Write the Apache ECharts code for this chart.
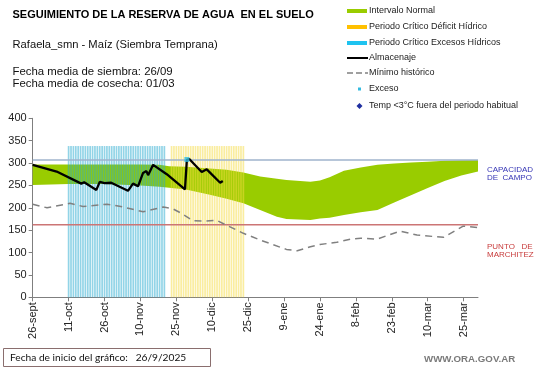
<!DOCTYPE html>
<html><head><meta charset="utf-8">
<script src="https://cdn.jsdelivr.net/npm/echarts@6/dist/echarts.min.js"></script>
<style>html,body{margin:0;padding:0;background:#fff}#c{width:541px;height:368px}</style>
</head><body><div id="c"></div>
<script>
// ---- data (x = days since 26/9/2025) ----
const tickLabels = ['26-sept','11-oct','26-oct','10-nov','25-nov','10-dic','25-dic','9-ene','24-ene','8-feb','23-feb','10-mar','25-mar'];
const xMaxDay = 186;
const bandDays  = [0, 15, 30, 45, 53, 57, 64, 74, 81, 88, 95, 102, 106, 116, 120, 124, 130, 137, 144, 151, 158, 165, 172, 179, 186];
const bandLower = [251,253,253,250,247,245,241,229,220,210,195,180,175,173,176,178,184,190,195,212,228,244,260,272,281];
const bandUpper = [297,297,297,297,296,293,292,288,285,279,270,265,262,258,261,268,283,290,296,299,301,303,305,306,307];
const excesoPeriodDays = [15,16,17,18,19,20,21,22,23,24,25,26,27,28,29,30,31,32,33,34,35,36,37,38,39,40,41,42,43,44,45,46,47,48,49,50,51,52,53,54,55];
const deficitPeriodDays = [58,59,60,61,62,63,64,65,66,67,68,69,70,71,72,73,74,75,76,77,78,79,80,81,82,83,84,85,86,87,88];
const periodTop = 338;
const almacenajeDays   = [0, 10, 20.3, 21.5, 26.6, 28, 30, 32.8, 39.8, 41.9, 44, 46.1, 47.5, 48.2, 50.3, 56, 63.6, 64.4, 65.4, 70.6, 72.7, 78.3, 79.4];
const almacenajeValues = [296,281,254,257,240,258,255,256,238,254,248,278,282,273,296,275,241,307,309,280,286,256,260];
const minimoDays   = [0, 6, 15.6, 21, 31, 37.7, 46.1, 54.6, 58.8, 62, 67, 72, 76.9, 81, 88, 95, 106, 110.5, 116, 120, 127, 133, 137, 143.8, 153.5, 160.5, 171.6, 179.8, 186];
const minimoValues = [208,200,210,203,208,202,191,202,197,188,171,170,172,161,143,128,107,104,113,118,123,130,132,130,148,139,134,159,156];
const excesoDays = [64.4];
const excesoValues = [308];
const capacidadCampo = 307;
const puntoMarchitez = 162;

const pairs = (xs, ys) => xs.map((x, i) => [x, ys[i]]);

const chart = echarts.init(document.getElementById('c'), null, {renderer: 'canvas'});
const FONT = 'Liberation Sans, Arial, sans-serif';

const legendRows = [
  {y: 11, text: 'Intervalo Normal', kind: 'rect', color: '#99CC00'},
  {y: 27, text: 'Periodo Crítico Déficit Hídrico', kind: 'rect', color: '#FFC000'},
  {y: 43, text: 'Periodo Crítico Excesos Hídricos', kind: 'rect', color: '#1EC3F0'},
  {y: 58, text: 'Almacenaje', kind: 'line', color: '#000'},
  {y: 73, text: 'Mínimo histórico', kind: 'dash', color: '#808080'},
  {y: 89, text: 'Exceso', kind: 'dot', color: '#33BBE0'},
  {y: 106, text: 'Temp <3°C fuera del periodo habitual', kind: 'diamond', color: '#1F2FA0'}
];
const legendGraphics = [];
legendRows.forEach(r => {
  if (r.kind === 'rect') legendGraphics.push({type: 'rect', shape: {x: 347, y: r.y - 2, width: 20, height: 4}, style: {fill: r.color}});
  if (r.kind === 'line') legendGraphics.push({type: 'line', shape: {x1: 347, y1: r.y, x2: 368, y2: r.y}, style: {stroke: r.color, lineWidth: 2}});
  if (r.kind === 'dash') legendGraphics.push({type: 'line', shape: {x1: 347, y1: r.y, x2: 368, y2: r.y}, style: {stroke: r.color, lineWidth: 1.5, lineDash: [6, 3]}});
  if (r.kind === 'dot') legendGraphics.push({type: 'rect', shape: {x: 358, y: r.y - 1.5, width: 3, height: 3}, style: {fill: r.color}});
  if (r.kind === 'diamond') legendGraphics.push({type: 'polygon', shape: {points: [[359.5, r.y - 3], [362.5, r.y], [359.5, r.y + 3], [356.5, r.y]]}, style: {fill: r.color}});
  legendGraphics.push({type: 'text', x: 369, y: r.y, style: {text: r.text, font: '9px ' + FONT, fill: '#222', verticalAlign: 'middle'}});
});

const option = {
  animation: false,
  backgroundColor: '#fff',
  grid: {left: 32.7, right: 63, top: 118.3, bottom: 70.7, containLabel: false, outerBoundsMode: 'none'},
  xAxis: {
    type: 'value', min: 0, max: xMaxDay, interval: 15,
    axisLine: {lineStyle: {color: '#7f7f7f', width: 1}},
    axisTick: {show: true, length: 4, lineStyle: {color: '#7f7f7f'}},
    splitLine: {show: false},
    axisLabel: {rotate: 90, fontSize: 11, fontFamily: FONT, color: '#222', margin: 5, showMaxLabel: false,
      formatter: v => tickLabels[Math.round(v / 15)] || ''}
  },
  yAxis: {
    type: 'value', min: 0, max: 400, interval: 50,
    name: 'Milímetros', nameLocation: 'middle', nameRotate: 90, nameGap: 27,
    nameTextStyle: {fontSize: 7, fontFamily: FONT, color: '#222'},
    axisLine: {show: true, lineStyle: {color: '#7f7f7f', width: 1}},
    axisTick: {show: true, length: 4, lineStyle: {color: '#7f7f7f'}},
    splitLine: {show: false},
    axisLabel: {fontSize: 11, fontFamily: FONT, color: '#222', margin: 6}
  },
  series: [
    {name: 'Intervalo Normal', type: 'custom', z: 1,
      data: bandDays.map((d, i) => [d, bandLower[i], bandUpper[i]]),
      encode: {x: 0, y: [1, 2]},
      renderItem: (params, api) => {
        if (params.dataIndex !== 0) return null;
        const top = bandDays.map((d, i) => api.coord([d, bandUpper[i]]));
        const bottom = bandDays.map((d, i) => api.coord([d, bandLower[i]])).reverse();
        return {type: 'polygon', shape: {points: top.concat(bottom)}, style: {fill: '#99CC00'}};
      }},
    {name: 'Periodo Crítico Excesos Hídricos', type: 'bar', barWidth: 1.7, barGap: '-100%',
      data: excesoPeriodDays.map(d => [d, periodTop]), itemStyle: {color: '#25A9CF', opacity: 0.5}, z: 2},
    {name: 'Periodo Crítico Déficit Hídrico', type: 'bar', barWidth: 1.7, barGap: '-100%',
      data: deficitPeriodDays.map(d => [d, periodTop]), itemStyle: {color: '#F5DC40', opacity: 0.5}, z: 2},
    {name: 'Capacidad de campo', type: 'line', data: [[0, capacidadCampo], [xMaxDay, capacidadCampo]], symbol: 'none',
      lineStyle: {color: '#9FB3CC', width: 1.5}, z: 3},
    {name: 'Punto de marchitez', type: 'line', data: [[0, puntoMarchitez], [xMaxDay, puntoMarchitez]], symbol: 'none',
      lineStyle: {color: '#CC7575', width: 1.5}, z: 3},
    {name: 'Mínimo histórico', type: 'line', data: pairs(minimoDays, minimoValues), symbol: 'none',
      lineStyle: {color: '#808080', width: 1.5, type: [7, 5]}, z: 4},
    {name: 'Almacenaje', type: 'line', data: pairs(almacenajeDays, almacenajeValues), symbol: 'none',
      lineStyle: {color: '#000', width: 2.3}, z: 5},
    {name: 'Exceso', type: 'scatter', data: pairs(excesoDays, excesoValues), symbol: 'rect', symbolSize: 5,
      itemStyle: {color: '#33BBE0'}, z: 6},
    {name: 'Temp <3°C fuera del periodo habitual', type: 'scatter', data: [], symbol: 'diamond', itemStyle: {color: '#1F2FA0'}}
  ],
  graphic: [
    {type: 'text', x: 12.5, y: 15, style: {text: 'SEGUIMIENTO DE LA RESERVA DE AGUA  EN EL SUELO', font: 'bold 11px ' + FONT, fill: '#000', verticalAlign: 'middle'}},
    {type: 'text', x: 12.5, y: 45, style: {text: 'Rafaela_smn - Maíz (Siembra Temprana)', font: '11.2px ' + FONT, fill: '#111', verticalAlign: 'middle'}},
    {type: 'text', x: 12.5, y: 72, style: {text: 'Fecha media de siembra: 26/09', font: '11.4px ' + FONT, fill: '#111', verticalAlign: 'middle'}},
    {type: 'text', x: 12.5, y: 84, style: {text: 'Fecha media de cosecha: 01/03', font: '11.4px ' + FONT, fill: '#111', verticalAlign: 'middle'}},
    {type: 'text', x: 487, y: 170, style: {text: 'CAPACIDAD', font: '8px ' + FONT, fill: '#3535B5', verticalAlign: 'middle'}},
    {type: 'text', x: 487, y: 178, style: {text: 'DE  CAMPO', font: '8px ' + FONT, fill: '#3535B5', verticalAlign: 'middle'}},
    {type: 'text', x: 487, y: 247, style: {text: 'PUNTO   DE', font: '8px ' + FONT, fill: '#C83C3C', verticalAlign: 'middle'}},
    {type: 'text', x: 487, y: 255, style: {text: 'MARCHITEZ', font: '8px ' + FONT, fill: '#C83C3C', verticalAlign: 'middle'}},
    {type: 'rect', shape: {x: 3.5, y: 348.5, width: 207, height: 18}, style: {fill: '#fff', stroke: '#8A6E6E', lineWidth: 1}},
    {type: 'text', x: 10, y: 357.5, style: {text: 'Fecha de inicio del gráfico:   26/9/2025', font: '10.2px Lato, sans-serif', fill: '#111', verticalAlign: 'middle'}},
    {type: 'text', x: 424, y: 359, style: {text: 'WWW.ORA.GOV.AR', font: 'bold 9.7px ' + FONT, fill: '#7a7a7a', verticalAlign: 'middle'}},
    ...legendGraphics
  ]
};
chart.setOption(option);
</script>
</body></html>
